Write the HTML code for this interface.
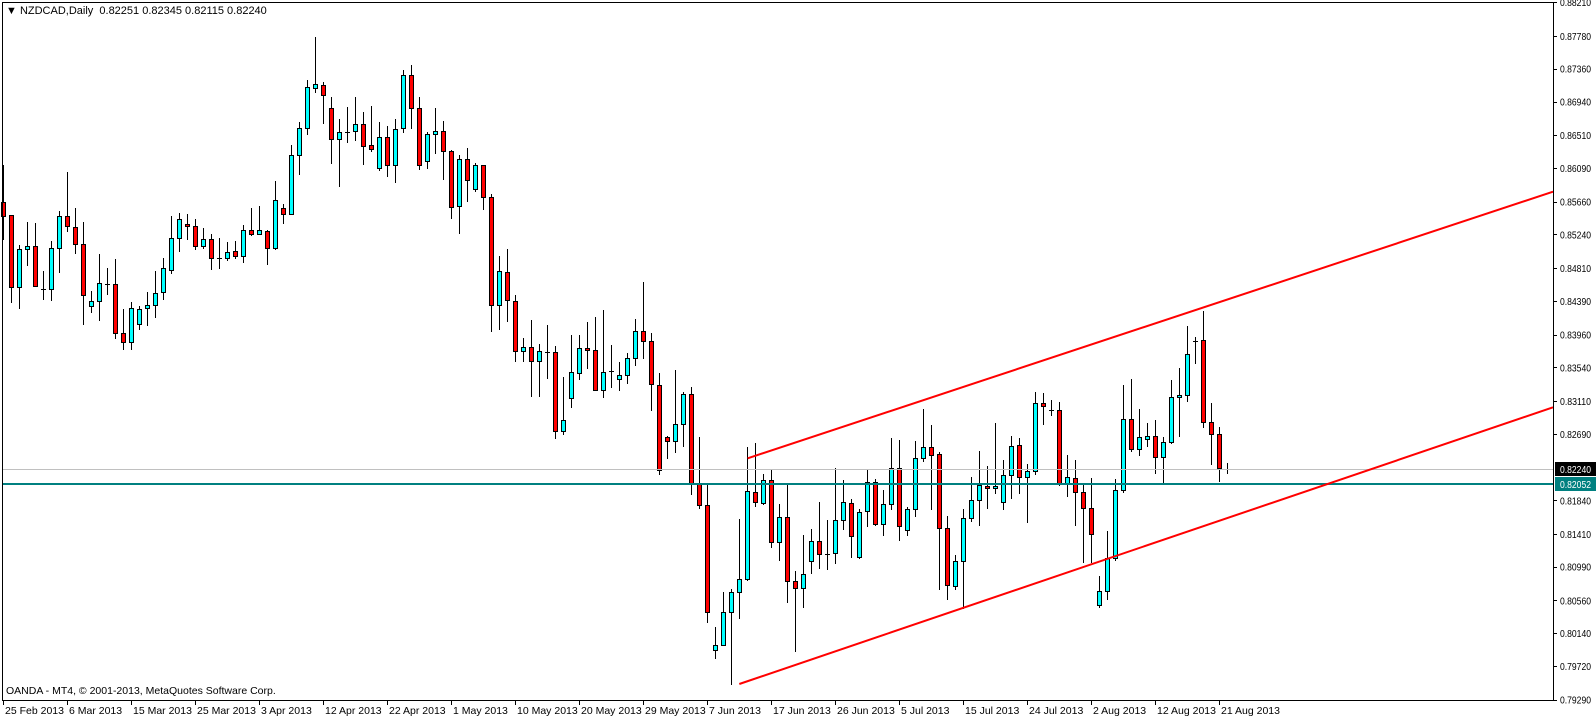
<!DOCTYPE html>
<html><head><meta charset="utf-8">
<style>
html,body{margin:0;padding:0;background:#fff;}
svg{display:block;font-family:"Liberation Sans","DejaVu Sans",sans-serif;}
</style></head>
<body>
<svg id="c" width="1596" height="719" xmlns="http://www.w3.org/2000/svg">
<rect x="0" y="0" width="1596" height="719" fill="#fff"/>
<g id="cand" shape-rendering="crispEdges"></g>
<line x1="2" y1="469.5" x2="1553" y2="469.5" stroke="#c0c0c0" stroke-width="1" shape-rendering="crispEdges"/>
<line x1="2" y1="484" x2="1553" y2="484" stroke="#008080" stroke-width="2" shape-rendering="crispEdges"/>
<line x1="747.7" y1="458.3" x2="1553" y2="191.7" stroke="#ff0000" stroke-width="2"/>
<line x1="739.3" y1="684" x2="1553" y2="407.3" stroke="#ff0000" stroke-width="2"/>
<rect x="2.5" y="2.5" width="1551" height="698" fill="none" stroke="#000" stroke-width="1" shape-rendering="crispEdges"/>
<g id="yax" font-size="10" fill="#000"></g>
<g id="xax" font-size="10.5" fill="#000"></g>
<text x="6" y="14" font-size="11" fill="#000" xml:space="preserve">▼ NZDCAD,Daily  0.82251 0.82345 0.82115 0.82240</text>
<text x="6" y="694" font-size="10.5" fill="#000">OANDA - MT4, © 2001-2013, MetaQuotes Software Corp.</text>
</svg>
<script>
var D=[
"r 202 216 165 240","r 215 287 215 303","c 249 287 245 309","c 246 249 222 266","r 246 286 223 287","d 289 289 271 300","c 248 289 241 301","c 216 248 211 273","r 216 226 172 232","r 227 244 208 254",
"r 244 295 222 325","c 301 306 291 313","c 283 301 254 321","d 284 284 268 295","r 284 333 259 339","r 333 342 309 350","c 308 342 302 350","c 309 324 306 330","c 305 308 292 326","c 293 305 271 318",
"c 268 292 258 300","c 238 270 216 274","c 219 238 213 252","r 224 226 214 240","r 226 246 219 250","c 239 246 228 249","r 239 258 234 270","d 258 258 238 269","c 252 258 242 261","r 251 256 241 259",
"c 230 256 225 263","r 230 234 208 236","c 230 234 206 235","r 231 248 230 265","c 200 248 181 250","r 208 214 204 224","c 155 214 145 214","c 128 155 122 175","c 87 128 80 135","c 84 88 37 93",
"r 85 95 82 124","r 108 139 97 164","c 132 139 119 187","d 132 132 107 143","c 124 131 97 141","r 124 146 112 165","r 145 149 106 152","c 137 168 122 171","r 137 165 126 177","c 129 165 119 183",
"c 75 128 70 133","r 75 108 65 129","r 108 165 97 170","c 134 161 132 169","c 131 134 108 154","r 131 151 121 180","r 151 207 150 219","c 159 206 155 234","r 159 180 148 202","c 165 189 163 192",
"r 165 197 165 210","r 197 305 194 332","c 271 305 256 330","r 272 300 249 322","r 301 351 295 362","c 347 351 338 362","r 347 361 320 397","c 351 361 344 397","d 352 352 325 379","r 352 431 346 439",
"c 420 431 377 435","c 372 398 335 408","c 348 373 335 380","r 348 350 322 369","r 350 390 317 391","c 372 390 310 398","d 371 371 345 388","c 375 379 362 391","c 358 375 353 384","c 331 358 319 366",
"r 331 341 282 359","r 341 384 333 411","r 385 470 373 475","r 437 441 436 459","c 424 441 370 453","c 394 424 392 447","r 394 483 387 495","r 483 505 437 509","r 505 612 484 623","c 645 650 627 659",
"c 612 645 592 645","c 592 612 589 685","c 579 592 519 619","c 491 579 447 581","r 492 502 443 507","c 480 503 474 505","r 480 542 470 548","c 517 542 504 561","r 517 581 483 603","r 581 588 571 652",
"c 574 588 535 608","c 541 561 529 574","r 541 554 502 569","d 554 554 520 570","c 520 553 468 564","c 502 520 480 530","r 503 536 499 558","c 512 557 509 559","c 482 511 470 527","r 482 524 479 526",
"c 504 524 490 536","c 468 504 438 510","r 468 526 440 541","c 509 530 507 536","c 458 509 441 517","c 447 458 409 462","r 447 455 425 510","r 454 528 452 590","r 528 585 516 600","c 561 586 555 590",
"c 518 561 509 609","c 500 518 477 522","c 485 500 451 526","r 486 488 466 509","c 486 488 423 494","c 475 502 460 510","c 446 475 436 499","r 445 477 438 494","c 471 477 464 523","c 403 471 392 475",
"r 403 406 393 425","d 410 410 400 416","r 410 484 402 486","c 477 483 455 497","r 478 492 460 526","r 492 508 483 563","r 508 534 478 563","c 591 605 576 608","c 558 591 531 600","c 490 558 479 561",
"c 419 490 385 493","r 419 449 379 452","c 437 449 409 456","c 436 439 423 447","r 436 457 420 474","c 442 457 437 483","c 397 442 380 444","c 395 397 368 437","c 354 395 326 402","d 341 341 337 364",
"r 340 422 311 428","r 422 434 403 465","r 434 468 427 482","d 469 469 463 474"];
var NS="http://www.w3.org/2000/svg";
function el(t,a,p){var e=document.createElementNS(NS,t);for(var k in a)e.setAttribute(k,a[k]);p.appendChild(e);return e;}
var g=document.getElementById("cand");
D.forEach(function(s,k){
 var p=s.split(" "),t=p[0],bt=+p[1],bb=+p[2],hi=+p[3],lo=+p[4];
 var x=Math.round(3.3+8*k);
 el("line",{x1:x+0.5,y1:hi,x2:x+0.5,y2:lo,stroke:"#000","stroke-width":1},g);
 if(t==="d"||bb-bt<1){el("line",{x1:x-2,y1:bt+0.5,x2:x+3,y2:bt+0.5,stroke:"#000","stroke-width":1},g);}
 else{el("rect",{x:x-1.5,y:bt+0.5,width:4,height:bb-bt,fill:t==="c"?"#00ffff":"#ff0000",stroke:"#000","stroke-width":1},g);}
});
var ya=document.getElementById("yax");
var P=["0.88210","0.87780","0.87360","0.86940","0.86510","0.86090","0.85660","0.85240","0.84810","0.84390","0.83960","0.83540","0.83110","0.82690","0.81840","0.81410","0.80990","0.80560","0.80140","0.79720","0.79290"];
P.forEach(function(v){var y=469+(0.8224-parseFloat(v))*7819;
 el("line",{x1:1553,y1:Math.round(y)+0.5,x2:1557,y2:Math.round(y)+0.5,stroke:"#000"},ya);
 var t=el("text",{x:1560,y:y+4,textLength:31,lengthAdjust:"spacingAndGlyphs"},ya);t.textContent=v;});
el("rect",{x:1555,y:462,width:41,height:14,fill:"#000"},ya);
var t1=el("text",{x:1560,y:473,fill:"#fff",textLength:31,lengthAdjust:"spacingAndGlyphs"},ya);t1.textContent="0.82240";
el("rect",{x:1555,y:477,width:41,height:14,fill:"#008080"},ya);
var t2=el("text",{x:1560,y:488,fill:"#fff",textLength:31,lengthAdjust:"spacingAndGlyphs"},ya);t2.textContent="0.82052";
var xa=document.getElementById("xax");
var L=["25 Feb 2013","6 Mar 2013","15 Mar 2013","25 Mar 2013","3 Apr 2013","12 Apr 2013","22 Apr 2013","1 May 2013","10 May 2013","20 May 2013","29 May 2013","7 Jun 2013","17 Jun 2013","26 Jun 2013","5 Jul 2013","15 Jul 2013","24 Jul 2013","2 Aug 2013","12 Aug 2013","21 Aug 2013"];
L.forEach(function(s,i){var x=Math.round(3.3+64*i);
 el("line",{x1:x+0.5,y1:701,x2:x+0.5,y2:705,stroke:"#000"},xa);
 var t=el("text",{x:x+2,y:714},xa);t.textContent=s;});
</script>
</body></html>
